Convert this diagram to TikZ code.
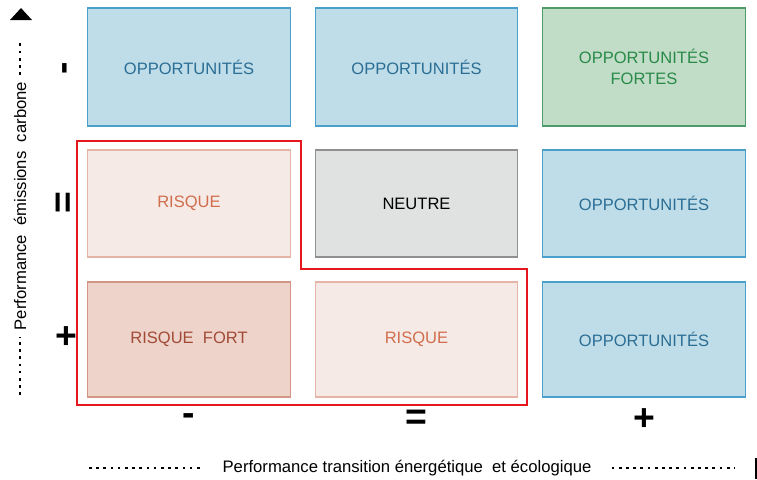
\documentclass[tikz,border=0pt]{standalone}
\usepackage{fontspec}
\setmainfont{Liberation Sans}
\usetikzlibrary{positioning}

\definecolor{oppfill}{HTML}{BFDDE8}
\definecolor{oppline}{HTML}{4B9FCB}
\definecolor{opptext}{HTML}{2B6E95}
\definecolor{fortfill}{HTML}{C1DDC8}
\definecolor{fortline}{HTML}{4E9A68}
\definecolor{forttext}{HTML}{2A8A48}
\definecolor{riskfill}{HTML}{F6EAE6}
\definecolor{riskline}{HTML}{E6B4A7}
\definecolor{risktext}{HTML}{D06E4E}
\definecolor{rfortfill}{HTML}{EDD3CA}
\definecolor{rfortline}{HTML}{D49585}
\definecolor{rforttext}{HTML}{A24A36}
\definecolor{neutfill}{HTML}{E0E1E1}
\definecolor{neutline}{HTML}{8F9090}
\definecolor{zoneline}{HTML}{E5161C}

\tikzset{
  cell/.style={draw, line width=0.8pt, inner sep=0pt, align=center,
    minimum width=152pt, font=\fontsize{12.4}{16}\selectfont},
  rowA/.style={minimum height=88.5pt},
  rowB/.style={minimum height=80.25pt},
  rowC/.style={minimum height=86.25pt},
  opp/.style={cell, fill=oppfill, draw=oppline, text=opptext},
  oppfort/.style={cell, fill=fortfill, draw=fortline, text=forttext},
  risque/.style={cell, fill=riskfill, draw=riskline, text=risktext},
  risquefort/.style={cell, fill=rfortfill, draw=rfortline, text=rforttext},
  neutre/.style={cell, fill=neutfill, draw=neutline, text=black},
  sign/.style={font=\fontsize{28}{28}\selectfont\bfseries, inner sep=0pt},
  dots/.style={line width=2pt, dash pattern=on 2pt off 3.4pt},
  axetext/.style={font=\fontsize{12.5}{14}\selectfont, inner sep=0pt}
}

\begin{document}
\begin{tikzpicture}[x=0.75pt,y=-0.75pt]
  \useasboundingbox (0,0) rectangle (757,479);
   \coordinate (Xone) at (189,0);
   \coordinate (Xtwo) at (416.5,0);
   \coordinate (Xthree) at (644,0);
  % grille des niveaux
  \node[opp,rowA] (oppA) at (189,67) {OPPORTUNIT\'ES};
  \node[opp,rowA] (oppB) at (416.5,67) {OPPORTUNIT\'ES};
  \node[oppfort,rowA] (oppFort) at (644,67) {OPPORTUNIT\'ES\\FORTES};
  \node[risque,rowB] (risqueA) at (189,203.5) {RISQUE};
  \node[neutre,rowB] (neutre) at (416.5,203.5) {NEUTRE};
  \node[opp,rowB] (oppC) at (644,203.5) {OPPORTUNIT\'ES};
  \node[risquefort,rowC] (risqueFort) at (189,339.5) {RISQUE\ \ FORT};
  \node[risque,rowC] (risqueB) at (416.5,339.5) {RISQUE};
  \node[opp,rowC] (oppD) at (644,339.5) {OPPORTUNIT\'ES};
  % zone de risque
  \draw[zoneline,line width=1.5pt] (77,141) -- (301,141) -- (301,268.5)
        -- (527,268.5) -- (527,404.5) -- (77,404.5) -- cycle;
  % signes des lignes et des colonnes
  \node[sign,rotate=90] (moinsY) at (69,68) {-};
  \node[sign,rotate=90] (egalY) at (66,203) {=};
  \node[sign] (plusY) at (66,338) {+};
  \foreach \c/\s/\n in {Xone/-/moinsX, Xtwo/=/egalX, Xthree/+/plusX}{%
    \node[sign] (\n) at ([yshift=-315pt]\c) {\s};
  }
  % axe vertical
  \node[axetext,rotate=90] (axeY) at (20,206) {Performance\ \ \'emissions\ \ carbone};
  \draw[dots] (20,395) -- ([yshift=-5pt]axeY.west);
  \draw[dots] ([yshift=5pt]axeY.east) -- (20,39);
  \fill (10,20) -- (32,20) -- (21,8) -- cycle;
  % axe horizontal
  \node[axetext] (axeX) at (407,468) {Performance transition \'energ\'etique\ \ et \'ecologique};
  \draw[dots] (89,468) -- ([xshift=-15pt]axeX.west);
  \draw[dots] ([xshift=15pt]axeX.east) -- (735,468);
  \draw[line width=1.6pt] (756,458) -- (756,479);
\end{tikzpicture}
\end{document}
